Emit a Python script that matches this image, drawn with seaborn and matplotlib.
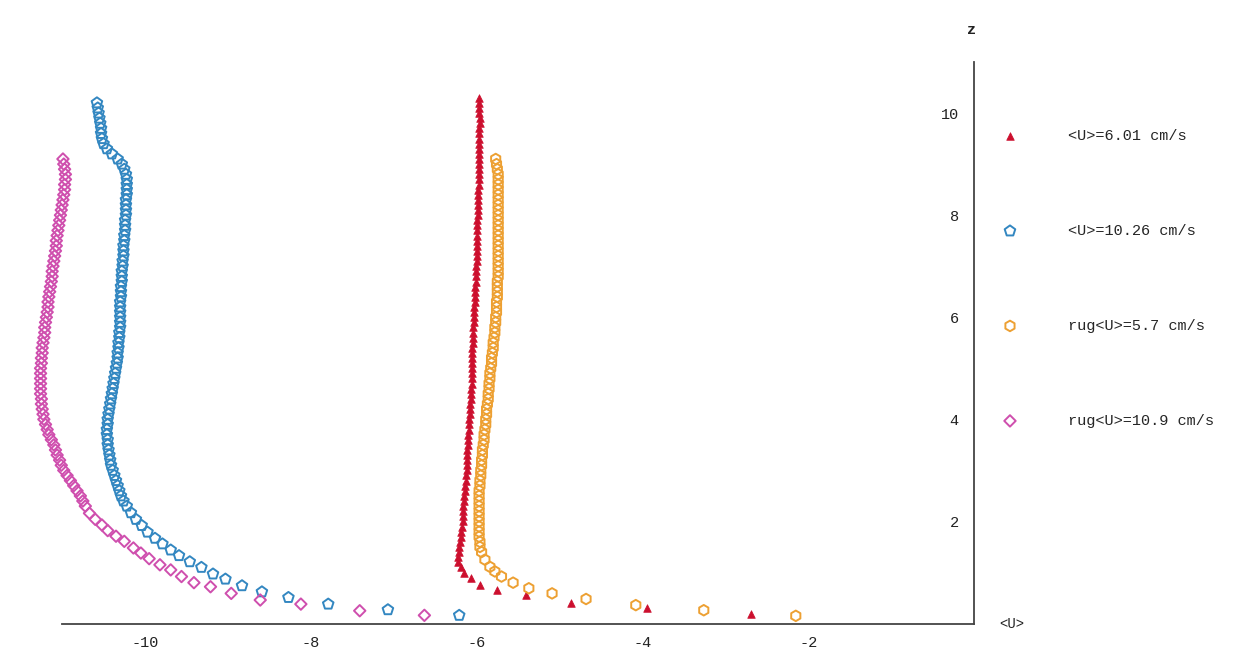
import matplotlib
matplotlib.use("Agg")
import matplotlib.pyplot as plt
import seaborn as sns
import numpy as np

# <U> = 6.01 cm/s  (red triangles)
red_z = [0.19, 0.30, 0.40, 0.55, 0.66, 0.75, 0.90, 0.99, 1.10,
         1.2, 1.3, 1.4, 1.5, 1.6, 1.7, 1.8, 1.9, 2.0, 2.1,
         2.2, 2.3, 2.4, 2.5, 2.6, 2.7, 2.8, 2.9, 3.0, 3.1,
         3.2, 3.3, 3.4, 3.5, 3.6, 3.7, 3.8, 3.9, 4.0, 4.1,
         4.2, 4.3, 4.4, 4.5, 4.6, 4.7, 4.8, 4.9, 5.0, 5.1,
         5.2, 5.3, 5.4, 5.5, 5.6, 5.7, 5.8, 5.9, 6.0, 6.1,
         6.2, 6.3, 6.4, 6.5, 6.6, 6.7, 6.8, 6.9, 7.0, 7.1,
         7.2, 7.3, 7.4, 7.5, 7.6, 7.7, 7.8, 7.9, 8.0, 8.1,
         8.2, 8.3, 8.4, 8.5, 8.6, 8.7, 8.8, 8.9, 9.0, 9.1,
         9.2, 9.3, 9.4, 9.5, 9.6, 9.7, 9.8, 9.9, 10.0, 10.1,
         10.2, 10.3]
red_u = [-2.69, -3.94, -4.86, -5.41, -5.76, -5.96, -6.07, -6.15, -6.19,
         -6.22, -6.22, -6.21, -6.21, -6.20, -6.19, -6.19, -6.18, -6.17, -6.17,
         -6.16, -6.16, -6.15, -6.15, -6.14, -6.14, -6.13, -6.13, -6.12, -6.12,
         -6.11, -6.11, -6.11, -6.10, -6.10, -6.10, -6.09, -6.09, -6.09, -6.08,
         -6.08, -6.08, -6.07, -6.07, -6.07, -6.06, -6.06, -6.06, -6.06, -6.05,
         -6.05, -6.05, -6.05, -6.04, -6.04, -6.04, -6.04, -6.03, -6.03, -6.03,
         -6.03, -6.02, -6.02, -6.02, -6.02, -6.01, -6.01, -6.01, -6.01, -6.00,
         -6.00, -6.00, -6.00, -5.99, -5.99, -5.99, -5.99, -5.99, -5.98, -5.98,
         -5.98, -5.98, -5.98, -5.98, -5.97, -5.97, -5.97, -5.97, -5.97, -5.97,
         -5.97, -5.97, -5.97, -5.97, -5.97, -5.97, -5.96, -5.96, -5.97, -5.97,
         -5.97, -5.97]

# <U> = 10.26 cm/s  (blue pentagons)
blue_z = [0.16, 0.27, 0.38, 0.51, 0.62, 0.74, 0.87, 0.97, 1.10, 1.21,
          1.33, 1.44, 1.56, 1.67, 1.79, 1.92, 2.04, 2.17, 2.30,
          2.4, 2.5, 2.6, 2.7, 2.8, 2.9, 3.0, 3.1, 3.2, 3.3,
          3.4, 3.5, 3.6, 3.7, 3.8, 3.9, 4.0, 4.1, 4.2, 4.3,
          4.4, 4.5, 4.6, 4.7, 4.8, 4.9, 5.0, 5.1, 5.2, 5.3,
          5.4, 5.5, 5.6, 5.7, 5.8, 5.9, 6.0, 6.1, 6.2, 6.3,
          6.4, 6.5, 6.6, 6.7, 6.8, 6.9, 7.0, 7.1, 7.2, 7.3,
          7.4, 7.5, 7.6, 7.7, 7.8, 7.9, 8.0, 8.1, 8.2, 8.3,
          8.4, 8.5, 8.6, 8.7, 8.8, 8.9, 9.0, 9.1, 9.2, 9.3,
          9.4, 9.5, 9.6, 9.7, 9.8, 9.9, 10.0, 10.1, 10.2]
blue_u = [-6.21, -7.07, -7.79, -8.27, -8.59, -8.83, -9.03, -9.18, -9.32, -9.46,
          -9.59, -9.69, -9.79, -9.88, -9.97, -10.04, -10.11, -10.17, -10.22,
          -10.26, -10.29, -10.31, -10.33, -10.35, -10.37, -10.39, -10.41, -10.42, -10.43,
          -10.44, -10.45, -10.45, -10.46, -10.46, -10.45, -10.45, -10.44, -10.43, -10.42,
          -10.41, -10.40, -10.39, -10.38, -10.37, -10.36, -10.35, -10.34, -10.33, -10.33,
          -10.32, -10.32, -10.31, -10.31, -10.30, -10.30, -10.30, -10.30, -10.30, -10.30,
          -10.29, -10.29, -10.29, -10.28, -10.28, -10.28, -10.27, -10.27, -10.26, -10.26,
          -10.26, -10.25, -10.25, -10.24, -10.24, -10.24, -10.23, -10.23, -10.23, -10.23,
          -10.22, -10.22, -10.22, -10.22, -10.23, -10.25, -10.28, -10.33, -10.40, -10.46,
          -10.50, -10.52, -10.53, -10.53, -10.54, -10.55, -10.56, -10.57, -10.58]

# rug <U> = 5.7 cm/s  (orange hexagons)
orange_z = [0.15, 0.26, 0.36, 0.48, 0.59, 0.69, 0.80, 0.92, 1.02, 1.11, 1.25,
            1.4, 1.5, 1.6, 1.7, 1.8, 1.9, 2.0, 2.1, 2.2, 2.3,
            2.4, 2.5, 2.6, 2.7, 2.8, 2.9, 3.0, 3.1, 3.2, 3.3,
            3.4, 3.5, 3.6, 3.7, 3.8, 3.9, 4.0, 4.1, 4.2, 4.3,
            4.4, 4.5, 4.6, 4.7, 4.8, 4.9, 5.0, 5.1, 5.2, 5.3,
            5.4, 5.5, 5.6, 5.7, 5.8, 5.9, 6.0, 6.1, 6.2, 6.3,
            6.4, 6.5, 6.6, 6.7, 6.8, 6.9, 7.0, 7.1, 7.2, 7.3,
            7.4, 7.5, 7.6, 7.7, 7.8, 7.9, 8.0, 8.1, 8.2, 8.3,
            8.4, 8.5, 8.6, 8.7, 8.8, 8.9, 9.0, 9.1]
orange_u = [-2.15, -3.26, -4.08, -4.68, -5.09, -5.37, -5.56, -5.70, -5.78, -5.84, -5.90,
            -5.94, -5.96, -5.96, -5.97, -5.97, -5.97, -5.97, -5.97, -5.97, -5.97,
            -5.97, -5.97, -5.97, -5.96, -5.96, -5.95, -5.95, -5.94, -5.94, -5.93,
            -5.93, -5.92, -5.91, -5.91, -5.90, -5.89, -5.89, -5.88, -5.88, -5.87,
            -5.86, -5.86, -5.85, -5.85, -5.84, -5.84, -5.83, -5.82, -5.82, -5.81,
            -5.80, -5.80, -5.79, -5.78, -5.78, -5.77, -5.77, -5.76, -5.76, -5.76,
            -5.75, -5.75, -5.75, -5.75, -5.74, -5.74, -5.74, -5.74, -5.74, -5.74,
            -5.74, -5.74, -5.74, -5.74, -5.74, -5.74, -5.74, -5.74, -5.74, -5.74,
            -5.74, -5.74, -5.74, -5.74, -5.74, -5.75, -5.76, -5.77]

# rug <U> = 10.9 cm/s  (magenta diamonds)
mag_z = [0.16, 0.25, 0.38, 0.46, 0.59, 0.72, 0.80, 0.92, 1.05, 1.15,
         1.27, 1.38, 1.48, 1.61, 1.71, 1.82, 1.93, 2.04, 2.16,
         2.3, 2.4, 2.5, 2.6, 2.7, 2.8, 2.9, 3.0, 3.1, 3.2,
         3.3, 3.4, 3.5, 3.6, 3.7, 3.8, 3.9, 4.0, 4.1, 4.2,
         4.3, 4.4, 4.5, 4.6, 4.7, 4.8, 4.9, 5.0, 5.1, 5.2,
         5.3, 5.4, 5.5, 5.6, 5.7, 5.8, 5.9, 6.0, 6.1, 6.2,
         6.3, 6.4, 6.5, 6.6, 6.7, 6.8, 6.9, 7.0, 7.1, 7.2,
         7.3, 7.4, 7.5, 7.6, 7.7, 7.8, 7.9, 8.0, 8.1, 8.2,
         8.3, 8.4, 8.5, 8.6, 8.7, 8.8, 8.9, 9.0, 9.1]
mag_u = [-6.63, -7.41, -8.12, -8.61, -8.96, -9.21, -9.41, -9.56, -9.69, -9.82,
         -9.95, -10.05, -10.14, -10.25, -10.35, -10.45, -10.52, -10.60, -10.67,
         -10.72, -10.75, -10.78, -10.82, -10.86, -10.90, -10.94, -10.98, -11.01, -11.03,
         -11.06, -11.08, -11.10, -11.13, -11.16, -11.18, -11.20, -11.22, -11.23, -11.24,
         -11.25, -11.25, -11.26, -11.26, -11.26, -11.26, -11.26, -11.26, -11.25, -11.25,
         -11.24, -11.24, -11.23, -11.22, -11.21, -11.21, -11.20, -11.19, -11.18, -11.17,
         -11.17, -11.16, -11.15, -11.14, -11.13, -11.12, -11.12, -11.11, -11.10, -11.09,
         -11.08, -11.07, -11.07, -11.06, -11.05, -11.04, -11.03, -11.02, -11.01, -11.00,
         -10.99, -10.98, -10.97, -10.97, -10.96, -10.96, -10.97, -10.98, -10.99]

labels = ['<U>=6.01 cm/s', '<U>=10.26 cm/s', 'rug<U>=5.7 cm/s', 'rug<U>=10.9 cm/s']

sns.set_style('white')
plt.rcParams['font.family'] = ['Liberation Mono', 'DejaVu Sans Mono']
plt.rcParams['axes.unicode_minus'] = False

fig = plt.figure(figsize=(12.58, 6.64), dpi=100)
ax = fig.add_axes([0.01642, 0.06099, 0.7908, 0.8456])

sns.scatterplot(x=red_u, y=red_z, marker='^', s=30, color='#cc0f2e',
                edgecolor='#cc0f2e', linewidth=0.5, label=labels[0], ax=ax, zorder=3)
sns.scatterplot(x=blue_u, y=blue_z, marker='p', s=64, facecolor='none',
                edgecolor='#3387c1', linewidth=1.4, label=labels[1], ax=ax, zorder=3)
sns.scatterplot(x=orange_u, y=orange_z, marker='h', s=58, facecolor='none',
                edgecolor='#eda032', linewidth=1.4, label=labels[2], ax=ax, zorder=3)
sns.scatterplot(x=mag_u, y=mag_z, marker='D', s=34, facecolor='none',
                edgecolor='#cf4fae', linewidth=1.4, label=labels[3], ax=ax, zorder=3)

ax.set_xlim(-11.5, 0.5)
ax.set_ylim(0, 11)

ax.spines['top'].set_visible(False)
ax.spines['right'].set_visible(False)
ax.spines['left'].set_position(('data', 0))
ax.spines['left'].set_bounds(0, 11)
ax.spines['bottom'].set_bounds(-11, 0)
for sp in ['left', 'bottom']:
    ax.spines[sp].set_color('#444444')
    ax.spines[sp].set_linewidth(1.3)

ax.set_xticks([-10, -8, -6, -4, -2])
ax.set_xticks(np.arange(-10.5, 0, 0.5), minor=True)
ax.set_yticks([2, 4, 6, 8, 10])
ax.set_yticks(np.arange(0.5, 11, 0.5), minor=True)
ax.tick_params(which='both', direction='in', color='#444444', width=1.1)
ax.tick_params(which='major', length=6, labelsize=11, labelcolor='#222222')
ax.tick_params(which='minor', length=3.5)
ax.tick_params(axis='x', which='major', pad=9)
ax.tick_params(axis='y', which='major', pad=11)
ax.grid(False)
ax.set_xlabel('')
ax.set_ylabel('')

fig.text(972 / 1258, 1 - 30 / 664, 'z', ha='center', va='center',
         fontsize=11, color='#222222', fontweight='bold')
ax.text(0.46, 0, '<U>', ha='center', va='center', fontsize=10, color='#222222')

ax.legend(loc='upper left', bbox_to_anchor=(994.7 / 1258, 1 - 129 / 664),
          bbox_transform=fig.transFigure, frameon=False, fontsize=11,
          borderpad=0, borderaxespad=0, handlelength=2.0, handletextpad=2.8,
          labelspacing=5.3)

fig.savefig('out.png', dpi=100, facecolor='white')
